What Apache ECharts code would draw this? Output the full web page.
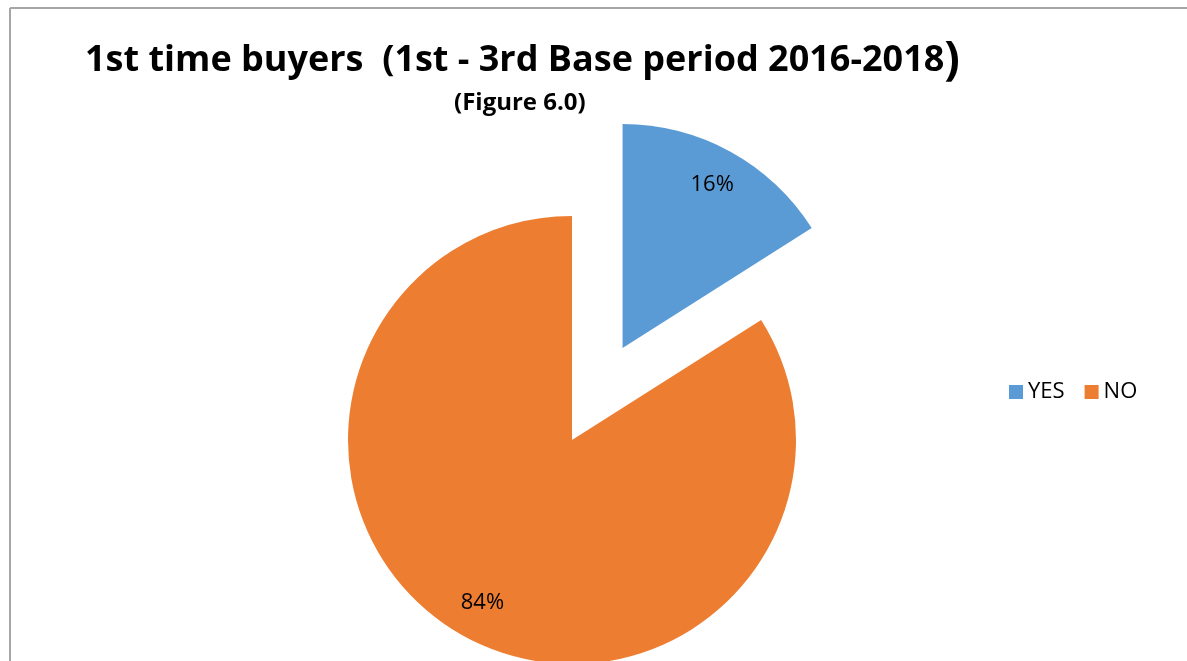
<!DOCTYPE html>
<html lang="en">
<head>
    <meta charset="UTF-8">
    <title>1st time buyers</title>
    <style type="text/css">
        *{
            margin: 0px;
            padding: 0px;
        }
        #chart{
            width: 1187px;
            height: 661px;
            background: #ffffff;
        }
    </style>
</head>
<body>
<div id="chart"></div>
<script src="https://cdn.jsdelivr.net/npm/echarts@6/dist/echarts.min.js"></script>
<script type="text/javascript">
  var categories = ['YES', 'NO'];
  var values = [16, 84];
  var colors = ['#5b9bd5', '#ed7d31'];

  var pieData = [];
  var labelData = [];
  for (var i = 0; i < categories.length; i++) {
    pieData.push({
      name: categories[i],
      value: values[i],
      selected: i === 0,
      itemStyle: { color: colors[i] }
    });
    labelData.push({
      name: categories[i],
      value: values[i],
      selected: i === 0
    });
  }

  var myChart = echarts.init(document.getElementById('chart'));

  myChart.setOption({
    animation: false,
    title: [
      {
        text: '1st time buyers  (1st - 3rd Base period 2016-2018{p|)}',
        left: 80,
        top: 33,
        textStyle: {
          fontFamily: 'Open Sans',
          fontWeight: 'bold',
          fontSize: 36,
          color: '#000',
          rich: {
            p: { fontFamily: 'Open Sans', fontWeight: 'bold', fontSize: 46, color: '#000' }
          }
        }
      },
      {
        text: '(Figure 6.0)',
        left: 449,
        top: 86,
        textStyle: {
          fontFamily: 'Open Sans',
          fontWeight: 'bold',
          fontSize: 24,
          color: '#000'
        }
      }
    ],
    legend: {
      data: categories,
      left: 1004,
      top: 376,
      itemWidth: 14,
      itemHeight: 14,
      itemGap: 20,
      icon: 'rect',
      textStyle: {
        fontFamily: 'Open Sans',
        fontSize: 22,
        color: '#000',
        padding: [0, 0, 0, 0]
      }
    },
    graphic: [
      { type: 'line', shape: { x1: 10, y1: 8, x2: 1187, y2: 8 }, style: { stroke: '#a6a6a6', lineWidth: 2 } },
      { type: 'line', shape: { x1: 10, y1: 8, x2: 10, y2: 661 }, style: { stroke: '#a6a6a6', lineWidth: 2 } }
    ],
    series: [
      {
        type: 'pie',
        center: [572, 440],
        radius: 224,
        startAngle: 90,
        clockwise: true,
        selectedMode: 'multiple',
        selectedOffset: 105,
        label: { show: false },
        labelLine: { show: false },
        emphasis: { disabled: true },
        data: pieData
      },
      {
        // transparent ring used only to place the percentage labels
        type: 'pie',
        center: [572, 440],
        radius: [142, 224],
        startAngle: 90,
        clockwise: true,
        selectedMode: 'multiple',
        selectedOffset: 105,
        silent: true,
        itemStyle: { color: 'rgba(0,0,0,0)' },
        label: {
          show: true,
          position: 'inside',
          formatter: '{d}%',
          fontFamily: 'Open Sans',
          fontSize: 22,
          color: '#000'
        },
        labelLine: { show: false },
        emphasis: { disabled: true },
        data: labelData
      }
    ]
  });
</script>
</body>
</html>
